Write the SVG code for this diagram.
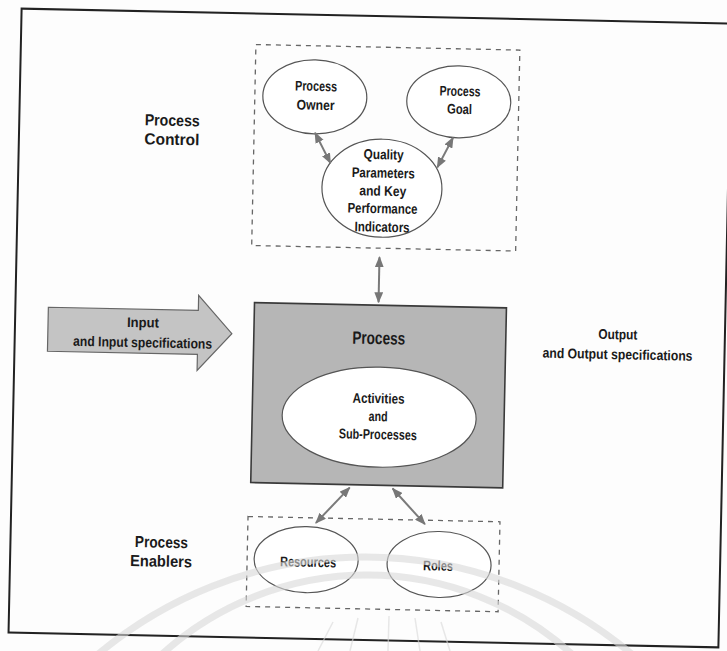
<svg xmlns="http://www.w3.org/2000/svg" width="727" height="651" viewBox="0 0 727 651">
<defs>
<style>
.t{font-family:"Liberation Sans",Arial,sans-serif;font-weight:bold;fill:#1a1a1a;text-anchor:middle}
.s{font-size:14px}
.m{font-size:16px}
.l{font-size:18px}
.el{fill:#fff;stroke:#555;stroke-width:1.2}
.dash{fill:none;stroke:#666;stroke-width:1.3;stroke-dasharray:5 5}
.con{stroke:#7a7a7a;stroke-width:2;fill:none}
.wm{fill:none;stroke:#d8d8d8;stroke-opacity:0.6}
</style>
<marker id="ah" viewBox="0 0 10 8" refX="9" refY="4" markerWidth="11" markerHeight="9" markerUnits="userSpaceOnUse" orient="auto-start-reverse">
<path d="M0,0 L10,4 L0,8 z" fill="#777"/>
</marker>
</defs>
<rect x="0" y="0" width="727" height="651" fill="#fdfdfd"/>
<g transform="rotate(1.2 370 328)">
<rect id="frame" x="15" y="16" width="710" height="624" fill="none" stroke="#222" stroke-width="2"/>

<g id="process-control-label">
<text class="t m" x="168" y="130" textLength="55" lengthAdjust="spacingAndGlyphs">Process</text>
<text class="t m" x="168" y="149" textLength="55" lengthAdjust="spacingAndGlyphs">Control</text>
</g>

<g id="process-control-box">
<rect class="dash" x="250" y="47" width="264" height="201"/>
</g>

<g id="process-owner">
<ellipse class="el" cx="310" cy="98" rx="52" ry="37"/>
<text class="t s" x="311" y="92" textLength="42" lengthAdjust="spacingAndGlyphs">Process</text>
<text class="t s" x="311" y="111" textLength="38" lengthAdjust="spacingAndGlyphs">Owner</text>
</g>

<g id="process-goal">
<ellipse class="el" cx="454" cy="100" rx="52" ry="36"/>
<text class="t s" x="455" y="94" textLength="41" lengthAdjust="spacingAndGlyphs">Process</text>
<text class="t s" x="455" y="112" textLength="25" lengthAdjust="spacingAndGlyphs">Goal</text>
</g>

<g id="quality-kpi">
<ellipse class="el" cx="379" cy="188" rx="60" ry="49"/>
<text class="t s" x="380" y="159" textLength="40" lengthAdjust="spacingAndGlyphs">Quality</text>
<text class="t s" x="380" y="177.5" textLength="63" lengthAdjust="spacingAndGlyphs">Parameters</text>
<text class="t s" x="380" y="195.5" textLength="47" lengthAdjust="spacingAndGlyphs">and Key</text>
<text class="t s" x="380" y="213" textLength="70" lengthAdjust="spacingAndGlyphs">Performance</text>
<text class="t s" x="380" y="231.5" textLength="55" lengthAdjust="spacingAndGlyphs">Indicators</text>
</g>

<g id="input">
<polygon points="48,314 198,314 198,299 232,336.5 198,374 198,358 48,358" fill="#c4c4c4" stroke="#666" stroke-width="1.2"/>
<text class="t s" x="143" y="332" textLength="32" lengthAdjust="spacingAndGlyphs">Input</text>
<text class="t s" x="143" y="352" textLength="139" lengthAdjust="spacingAndGlyphs">and Input specifications</text>
</g>

<g id="process">
<rect x="254" y="305" width="252" height="180" fill="#b6b6b6" stroke="#3a3a3a" stroke-width="1.6"/>
<text class="t l" x="379" y="344" textLength="53" lengthAdjust="spacingAndGlyphs">Process</text>
</g>

<g id="activities">
<ellipse class="el" cx="381" cy="417" rx="97" ry="50" stroke="#444"/>
<text class="t s" x="380" y="403" textLength="52" lengthAdjust="spacingAndGlyphs">Activities</text>
<text class="t s" x="380" y="421" textLength="19" lengthAdjust="spacingAndGlyphs">and</text>
<text class="t s" x="380" y="439" textLength="78" lengthAdjust="spacingAndGlyphs">Sub-Processes</text>
</g>

<g id="output">
<text class="t s" x="618" y="334" textLength="39" lengthAdjust="spacingAndGlyphs">Output</text>
<text class="t s" x="618" y="354" textLength="150" lengthAdjust="spacingAndGlyphs">and Output specifications</text>
</g>

<g id="process-enablers-label">
<text class="t m" x="166" y="552" textLength="53" lengthAdjust="spacingAndGlyphs">Process</text>
<text class="t m" x="166" y="571" textLength="62" lengthAdjust="spacingAndGlyphs">Enablers</text>
</g>

<g id="process-enablers-box">
<rect class="dash" x="252" y="519" width="252" height="90"/>
</g>

<g id="resources">
<ellipse class="el" cx="311" cy="561" rx="52" ry="33"/>
<text class="t s" x="313" y="568" textLength="56" lengthAdjust="spacingAndGlyphs">Resources</text>
</g>

<g id="roles">
<ellipse class="el" cx="444" cy="563" rx="52" ry="33"/>
<text class="t s" x="443" y="569" textLength="30" lengthAdjust="spacingAndGlyphs">Roles</text>
</g>

<g id="connectors">
<line class="con" x1="311" y1="134" x2="327" y2="164" marker-start="url(#ah)" marker-end="url(#ah)"/>
<line class="con" x1="449" y1="136" x2="434" y2="166" marker-start="url(#ah)" marker-end="url(#ah)"/>
<line class="con" x1="378" y1="257" x2="378" y2="302" marker-start="url(#ah)" marker-end="url(#ah)"/>
<line class="con" x1="353" y1="488" x2="320" y2="524" marker-start="url(#ah)" marker-end="url(#ah)"/>
<line class="con" x1="396" y1="488" x2="429" y2="523" marker-start="url(#ah)" marker-end="url(#ah)"/>
</g>
</g>

<g id="watermark">
<circle class="wm" cx="365" cy="972" r="415" stroke-width="7"/>
<circle class="wm" cx="367" cy="880" r="305" stroke-width="7"/>
<g class="wm" stroke-width="1.5" stroke-opacity="0.45">
<line x1="318" y1="651" x2="333" y2="622"/>
<line x1="350" y1="651" x2="358" y2="618"/>
<line x1="388" y1="651" x2="389" y2="616"/>
<line x1="420" y1="651" x2="415" y2="618"/>
<line x1="450" y1="651" x2="441" y2="622"/>
</g>
</g>
</svg>
